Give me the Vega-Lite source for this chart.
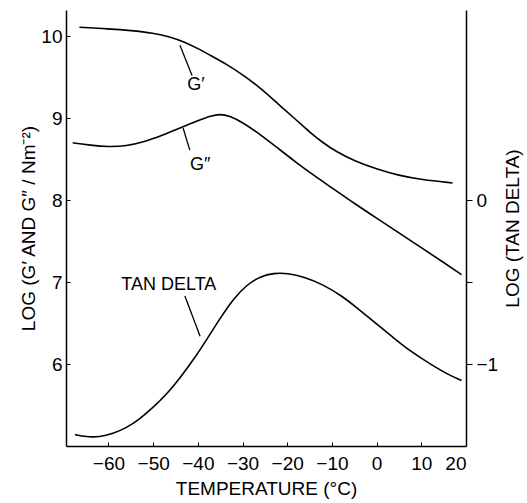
{
  "$schema": "https://vega.github.io/schema/vega-lite/v6.json",
  "width": 400,
  "height": 436,
  "autosize": "none",
  "padding": {"left": 66, "top": 10, "right": 61, "bottom": 57},
  "background": "white",
  "config": {
    "view": {"stroke": null},
    "font": "Liberation Sans",
    "axis": {
      "labelFont": "Liberation Sans",
      "titleFont": "Liberation Sans",
      "labelFontSize": 19,
      "titleFontSize": 19,
      "titleFontWeight": "normal",
      "labelColor": "black",
      "titleColor": "black",
      "domainColor": "black",
      "tickColor": "black",
      "grid": false,
      "domainWidth": 1.5
    }
  },
  "datasets": {
    "curves": [
      {"s": "G1", "t": -66.5, "L": 10.11}, {"s": "G1", "t": -60, "L": 10.09}, {"s": "G1", "t": -55, "L": 10.07},
      {"s": "G1", "t": -50, "L": 10.04}, {"s": "G1", "t": -46, "L": 9.99}, {"s": "G1", "t": -43, "L": 9.93},
      {"s": "G1", "t": -40, "L": 9.85}, {"s": "G1", "t": -37, "L": 9.76}, {"s": "G1", "t": -33, "L": 9.64},
      {"s": "G1", "t": -30, "L": 9.53}, {"s": "G1", "t": -26, "L": 9.37}, {"s": "G1", "t": -22, "L": 9.17},
      {"s": "G1", "t": -18, "L": 8.98}, {"s": "G1", "t": -15, "L": 8.83}, {"s": "G1", "t": -12, "L": 8.70},
      {"s": "G1", "t": -9, "L": 8.59}, {"s": "G1", "t": -5, "L": 8.48}, {"s": "G1", "t": 0, "L": 8.38},
      {"s": "G1", "t": 5, "L": 8.30}, {"s": "G1", "t": 10, "L": 8.25}, {"s": "G1", "t": 17, "L": 8.21},
      {"s": "G2", "t": -68, "L": 8.70}, {"s": "G2", "t": -64, "L": 8.67}, {"s": "G2", "t": -60, "L": 8.65},
      {"s": "G2", "t": -56, "L": 8.66}, {"s": "G2", "t": -52, "L": 8.71}, {"s": "G2", "t": -48, "L": 8.79},
      {"s": "G2", "t": -44, "L": 8.88}, {"s": "G2", "t": -40, "L": 8.97}, {"s": "G2", "t": -37, "L": 9.03},
      {"s": "G2", "t": -35, "L": 9.05}, {"s": "G2", "t": -33, "L": 9.03}, {"s": "G2", "t": -30, "L": 8.95},
      {"s": "G2", "t": -26, "L": 8.80}, {"s": "G2", "t": -22, "L": 8.63}, {"s": "G2", "t": -18, "L": 8.46},
      {"s": "G2", "t": -14, "L": 8.30}, {"s": "G2", "t": -10, "L": 8.15}, {"s": "G2", "t": -5, "L": 7.96},
      {"s": "G2", "t": 0, "L": 7.78}, {"s": "G2", "t": 5, "L": 7.60}, {"s": "G2", "t": 10, "L": 7.42},
      {"s": "G2", "t": 15, "L": 7.24}, {"s": "G2", "t": 19, "L": 7.09}
    ],
    "tan": [
      {"t": -67.5, "R": -1.43}, {"t": -65, "R": -1.445}, {"t": -62, "R": -1.445}, {"t": -59, "R": -1.425},
      {"t": -56, "R": -1.39}, {"t": -53, "R": -1.335}, {"t": -50, "R": -1.265}, {"t": -47, "R": -1.185},
      {"t": -44, "R": -1.085}, {"t": -41, "R": -0.975}, {"t": -38, "R": -0.85}, {"t": -35, "R": -0.72},
      {"t": -32, "R": -0.6}, {"t": -29, "R": -0.515}, {"t": -26, "R": -0.465}, {"t": -23, "R": -0.445},
      {"t": -20, "R": -0.445}, {"t": -16, "R": -0.47}, {"t": -12, "R": -0.515}, {"t": -8, "R": -0.58},
      {"t": -4, "R": -0.665}, {"t": 0, "R": -0.755}, {"t": 4, "R": -0.845}, {"t": 8, "R": -0.93},
      {"t": 12, "R": -1.0}, {"t": 16, "R": -1.065}, {"t": 19, "R": -1.10}
    ],
    "labels": [
      {"text": "G′", "t": -40.4, "L": 9.40},
      {"text": "G″", "t": -39.5, "L": 8.43},
      {"text": "TAN DELTA", "t": -46.5, "L": 6.96}
    ],
    "leaders": [
      {"t": -44.0, "L": 9.89, "t2": -41.3, "L2": 9.52},
      {"t": -43.3, "L": 8.88, "t2": -41.8, "L2": 8.61},
      {"t": -42.9, "L": 6.83, "t2": -39.5, "L2": 6.34}
    ]
  },
  "layer": [
    {
      "layer": [
        {
          "data": {"name": "curves"},
          "mark": {"type": "line", "color": "black", "strokeWidth": 1.6, "interpolate": "basis"},
          "encoding": {
            "x": {"field": "t", "type": "quantitative",
                  "scale": {"domain": [-69.5, 20], "nice": false, "zero": false},
                  "axis": {"values": [-60, -50, -40, -30, -20, -10, 0, 10, 20], "tickSize": -4, "labelPadding": 12,
                           "title": "TEMPERATURE  (°C)", "titlePadding": 6}},
            "y": {"field": "L", "type": "quantitative",
                  "scale": {"domain": [5.0, 10.32], "nice": false, "zero": false},
                  "axis": {"orient": "left", "values": [6, 7, 8, 9, 10], "format": "d", "tickSize": -4, "labelPadding": 8,
                           "title": "LOG  (G′ AND G″ / Nm⁻²)", "titlePadding": 2}},
            "detail": {"field": "s"}
          }
        },
        {
          "data": {"name": "leaders"},
          "mark": {"type": "rule", "color": "black", "strokeWidth": 1.3},
          "encoding": {
            "x": {"field": "t", "type": "quantitative"},
            "y": {"field": "L", "type": "quantitative"},
            "x2": {"field": "t2"},
            "y2": {"field": "L2"}
          }
        },
        {
          "data": {"name": "labels"},
          "mark": {"type": "text", "fontSize": 18, "font": "Liberation Sans", "baseline": "middle", "align": "center", "color": "black"},
          "encoding": {
            "x": {"field": "t", "type": "quantitative"},
            "y": {"field": "L", "type": "quantitative"},
            "text": {"field": "text"}
          }
        }
      ]
    },
    {
      "data": {"name": "tan"},
      "mark": {"type": "line", "color": "black", "strokeWidth": 1.6, "interpolate": "basis"},
      "encoding": {
        "x": {"field": "t", "type": "quantitative"},
        "y": {"field": "R", "type": "quantitative",
              "scale": {"domain": [-1.5, 1.16], "nice": false, "zero": false},
              "axis": {"orient": "right", "values": [0, -0.5, -1], "tickSize": 6, "labelPadding": 4,
                       "labelExpr": "datum.value == -0.5 ? '' : datum.label",
                       "title": "LOG  (TAN DELTA)", "titleAngle": 270, "titlePadding": 25}}
      }
    }
  ],
  "resolve": {"scale": {"y": "independent"}}
}
